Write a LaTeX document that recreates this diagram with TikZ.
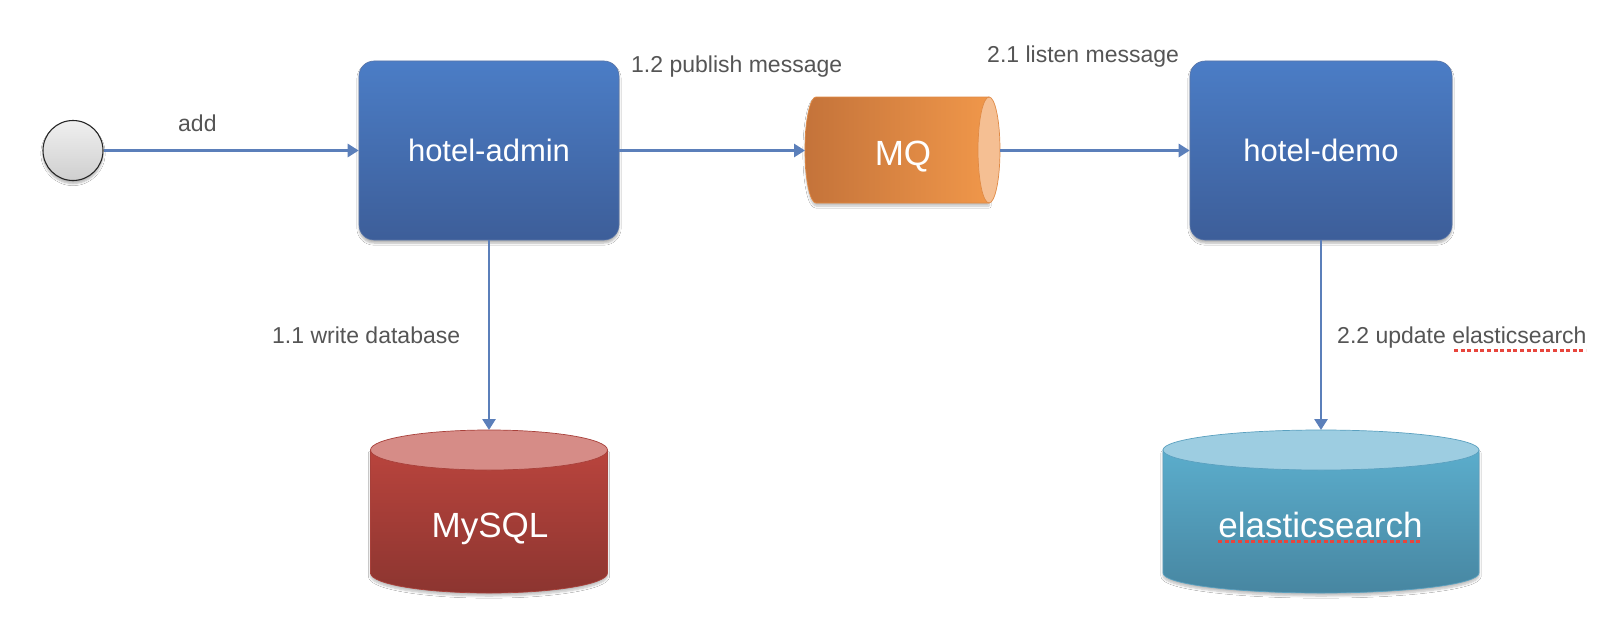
\documentclass[tikz,border=0pt]{standalone}
\usepackage{fontspec}
\setmainfont{Liberation Sans}
\usetikzlibrary{arrows.meta,shadows.blur}
\definecolor{boxtop}{HTML}{4B7DC6}
\definecolor{boxbot}{HTML}{3D5E99}
\definecolor{arrowc}{HTML}{5B7FBA}
\definecolor{labelc}{HTML}{555555}
\definecolor{mqleft}{HTML}{C4733A}
\definecolor{mqright}{HTML}{F0974A}
\definecolor{mqend}{HTML}{F5BF93}
\definecolor{mqline}{HTML}{E08A45}
\definecolor{sqltop}{HTML}{B9443D}
\definecolor{sqlbot}{HTML}{8C3530}
\definecolor{sqlcap}{HTML}{D68C87}
\definecolor{sqlline}{HTML}{A8403A}
\definecolor{estop}{HTML}{5BADCC}
\definecolor{esbot}{HTML}{4786A1}
\definecolor{escap}{HTML}{9DCDE1}
\definecolor{esline}{HTML}{5AA0BF}
\definecolor{spellred}{HTML}{E8453C}
\begin{document}
\begin{tikzpicture}[x=1pt,y=1pt,
  conn/.style={draw=arrowc, line width=2.8pt, -{Triangle[length=11pt,width=13pt]}},
  lbl/.style={anchor=base west, text=labelc, font=\fontsize{23}{27}\selectfont, inner sep=0pt},
  svc/.style={rectangle, rounded corners=15pt, minimum height=179pt,
    top color=boxtop, bottom color=boxbot, draw=boxbot!85!white, line width=0.6pt,
    text=white, font=\fontsize{31}{36}\selectfont,
    blur shadow={shadow xshift=0pt, shadow yshift=-3pt, shadow blur steps=6, shadow opacity=30}},
  startc/.style={circle, minimum size=60pt, inner sep=0pt, top color=gray!12, bottom color=gray!38,
    draw=black!85, line width=1.1pt,
    blur shadow={shadow xshift=0pt, shadow yshift=-3pt, shadow blur steps=6, shadow opacity=30}},
  bigtxt/.style={anchor=base, text=white, inner sep=0pt, font=\fontsize{35}{40}\selectfont},
  cylshadow/.style={blur shadow={shadow xshift=0pt, shadow yshift=-3pt, shadow blur steps=6, shadow opacity=25}},
  spell/.style={draw=spellred, line width=3pt, dash pattern=on 4pt off 2.6pt}
]
\fill[white] (0,0) rectangle (1614,-618);
\useasboundingbox (0,0) rectangle (1614,-618);

% start circle
\node[startc] (start) at (73,-150.5) {};

% service boxes
\node[svc, minimum width=260pt] (admin) at (489,-150.5) {hotel-admin};
\node[svc, minimum width=262pt] (demo) at (1321,-150.5) {hotel-demo};

% MQ cylinder (horizontal)
\shade[cylshadow, left color=mqleft, right color=mqright, draw=mqline, line width=0.7pt]
  (816,-97) arc[start angle=90, end angle=270, x radius=11pt, y radius=53pt]
  -- (989,-203) -- (989,-97) -- cycle;
\filldraw[fill=mqend, draw=mqline, line width=0.7pt] (989,-150) ellipse[x radius=11pt, y radius=53pt];
\node[anchor=base, text=white, inner sep=0pt, font=\fontsize{35}{40}\selectfont] (mq) at (903,-165) {MQ};
\coordinate (mqin) at (805,-150.5);
\coordinate (mqout) at (1000,-150.5);

% MySQL cylinder
\shade[cylshadow, top color=sqltop, bottom color=sqlbot, draw=sqlline, line width=0.7pt]
  (370.5,-450) -- (370.5,-573) arc[start angle=180, end angle=360, x radius=118.5pt, y radius=20pt]
  -- (607.5,-450) -- cycle;
\filldraw[fill=sqlcap, draw=sqlline, line width=0.7pt] (489,-450) ellipse[x radius=118.5pt, y radius=20pt];
\node[bigtxt] (mysql) at (490,-537) {MySQL};
\coordinate (mysqltop) at (489,-430);

% elasticsearch cylinder
\shade[cylshadow, top color=estop, bottom color=esbot, draw=esline, line width=0.7pt]
  (1163,-450) -- (1163,-573) arc[start angle=180, end angle=360, x radius=158pt, y radius=20pt]
  -- (1479,-450) -- cycle;
\filldraw[fill=escap, draw=esline, line width=0.7pt] (1321,-450) ellipse[x radius=158pt, y radius=20pt];
\node[bigtxt] (es) at (1320.5,-537) {elasticsearch};
\coordinate (estop) at (1321,-430);
\draw[spell] (es.base west) ++(0,-4) -- ++(203,0);

% connectors
\draw[conn] (start.east) -- (admin.west);
\draw[conn] (admin.east) -- (mqin);
\draw[conn] (mqout) -- (demo.west);
\draw[conn] (admin.south) -- (mysqltop);
\draw[conn] (demo.south) -- (estop);

% labels
\node[lbl] (ladd) at (178,-131) {add};
\node[lbl] (lpub) at (631,-73) {1.2 publish message};
\node[lbl] (llisten) at (987,-63) {2.1 listen message};
\node[lbl] (lwrite) at (272,-343) {1.1 write database};
\node[lbl] (lupdate) at (1337,-343) {2.2 update elasticsearch};
\draw[spell] (1454,-350) -- (1586,-350);
\end{tikzpicture}
\end{document}
